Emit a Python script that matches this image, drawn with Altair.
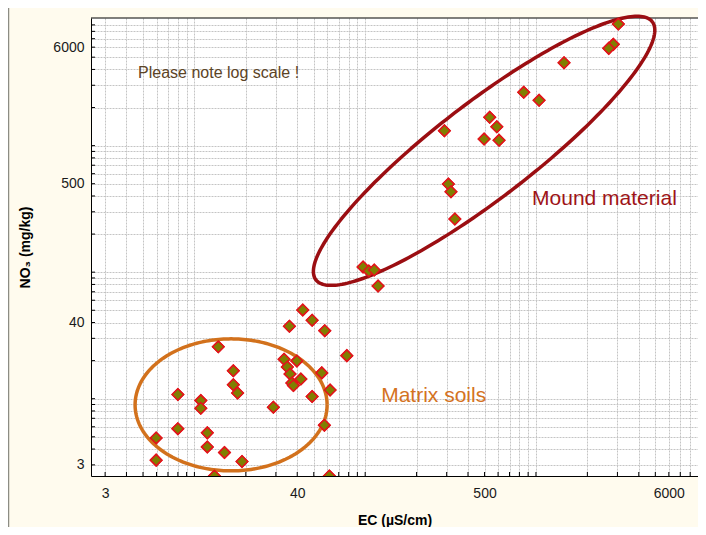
import altair as alt
import numpy as np
import pandas as pd

# ---- data (EC in uS/cm, NO3 in mg/kg) ----
ec = [3037, 2838, 2669, 1460, 848, 1043, 536, 590, 497, 608, 291, 307, 318, 335,
      97.2, 105, 113, 119,
      43.1, 48.9, 36.0, 58.0, 13.8, 78.1, 33.5, 39.8, 35.0, 16.9, 36.3, 55.7,
      42.0, 37.2, 38.0, 16.9, 17.9, 62.3, 8.0, 48.9, 10.9, 10.9, 29.0, 57.7,
      8.0, 5.97, 11.9, 11.9, 15.0, 19.0, 5.97, 13.1, 61.7]
no3 = [9131, 6312, 5870, 4517, 2637, 2279, 1673, 1410, 1127, 1101, 1311, 497, 432, 263,
       110, 102, 104, 77.8,
       50.3, 41.7, 37.4, 34.5, 25.7, 21.9, 20.5, 19.9, 17.8, 16.6, 15.7, 16.0,
       14.3, 13.3, 12.7, 12.9, 11.1, 11.7, 10.8, 10.4, 9.66, 8.4, 8.57, 6.18,
       5.8, 4.9, 5.37, 4.16, 3.75, 3.19, 3.27, 2.45, 2.45]

GRID = [3, 4, 5, 6, 7, 8, 9,
        10, 20, 30, 40, 50, 60, 70, 80, 90,
        100, 200, 300, 400, 500, 600, 700, 800, 900,
        1000, 2000, 3000, 4000, 5000, 6000, 7000, 8000, 9000]
LABELS = [3, 40, 500, 6000]

notes = ["Please note log scale !", "Mound material", "Matrix soils"]
note_x = [4.68, 949, 124]
note_y = [3768, 380, 10.5]
note_color = ["#5c4426", "#9e1418", "#d4731f"]
note_size = [16, 21, 21]

# ellipse annotations: centre (data), semi-axes (px), rotation (deg)
ell_names = ["mound", "matrix"]
ell_cx = [497, 16.4]
ell_cy = [910, 8.94]
ell_a = [212, 96]
ell_b = [48, 66]
ell_rot = [37.5, 0]
ell_color = ["#9b0e12", "#d2711c"]

W, H = 607, 458
XDOM = [2.48, 8890]
YDOM = [2.45, 10200]
FONT = "Liberation Sans"

pxdx = W / np.log10(XDOM[1] / XDOM[0])
pxdy = H / np.log10(YDOM[1] / YDOM[0])

xs = alt.Scale(type="log", domain=XDOM, nice=False)
ys = alt.Scale(type="log", domain=YDOM, nice=False)

label_expr = ("(datum.value == 3 || datum.value == 40 || datum.value == 500 || "
              "datum.value == 6000) ? format(datum.value, 'd') : ''")

GX = [g for g in GRID if g <= XDOM[1]]

x_axis = alt.Axis(values=GX, grid=True, gridColor="#c4c4c4",
                  gridDash=[2, 1], gridWidth=1, ticks=False, domain=True,
                  domainColor="black", domainWidth=1, labelExpr=label_expr,
                  labelOverlap=False, labelFlush=False, labelFont=FONT, labelFontSize=14,
                  labelColor="#1a1a1a", labelPadding=10, title="EC (µS/cm)",
                  titleFont=FONT, titleFontSize=14, titleFontWeight="bold",
                  titleColor="black", titleY=44, titleBaseline="middle")
y_axis = alt.Axis(values=GRID, grid=True, gridColor="#c4c4c4", gridDash=[2, 1], gridWidth=1,
                  ticks=False, domain=True, domainColor="black", domainWidth=1,
                  labelExpr=label_expr, labelOverlap=False, labelFlush=False,
                  labelFont=FONT, labelFontSize=14, labelColor="#1a1a1a", labelPadding=7,
                  title="NO₃ (mg/kg)", titleFont=FONT, titleFontSize=14,
                  titleFontWeight="bold", titleColor="black", titleX=-66, titleY=229,
                  titleBaseline="middle")

pts = alt.Chart(pd.DataFrame({"ec": ec, "no3": no3})).mark_point(
    shape="diamond", filled=True, fill="#7f7f00", fillOpacity=1, stroke="#e3141b",
    strokeWidth=1.5, size=130, opacity=1, clip=True
).encode(
    x=alt.X("ec:Q", scale=xs, axis=x_axis),
    y=alt.Y("no3:Q", scale=ys, axis=y_axis),
)

# ellipse outlines built in log space
t = np.linspace(0, 2 * np.pi, 241)
rows = []
for n, cx, cy, a, b, r in zip(ell_names, ell_cx, ell_cy, ell_a, ell_b, ell_rot):
    th = np.deg2rad(r)
    du = a * np.cos(t)
    dv = b * np.sin(t)
    dxp = du * np.cos(th) - dv * np.sin(th)
    dyp = du * np.sin(th) + dv * np.cos(th)
    lx = np.log10(cx) + dxp / pxdx
    ly = np.log10(cy) + dyp / pxdy
    for i in range(len(t)):
        rows.append({"name": n, "i": i, "ec": 10 ** lx[i], "no3": 10 ** ly[i]})
ell_df = pd.DataFrame(rows)

ells = alt.Chart(ell_df).mark_line(strokeWidth=3.5, clip=False).encode(
    x=alt.X("ec:Q", scale=xs, axis=x_axis),
    y=alt.Y("no3:Q", scale=ys, axis=y_axis),
    detail="name:N",
    order="i:Q",
    color=alt.Color("name:N", scale=alt.Scale(domain=ell_names, range=ell_color), legend=None),
)

texts = []
for s, tx, ty, c, fs in zip(notes, note_x, note_y, note_color, note_size):
    texts.append(
        alt.Chart(pd.DataFrame({"ec": [tx], "no3": [ty], "t": [s]})).mark_text(
            align="left", baseline="middle", font=FONT, fontSize=fs, color=c
        ).encode(
            x=alt.X("ec:Q", scale=xs, axis=x_axis),
            y=alt.Y("no3:Q", scale=ys, axis=y_axis),
            text="t:N",
        )
    )

xt = alt.Chart(pd.DataFrame({"ec": GX})).mark_rule(
    color="black", strokeWidth=1
).encode(x=alt.X("ec:Q", scale=xs, axis=x_axis), y=alt.value(H), y2=alt.value(H - 4))
yt = alt.Chart(pd.DataFrame({"no3": GRID})).mark_rule(
    color="black", strokeWidth=1
).encode(y=alt.Y("no3:Q", scale=ys, axis=y_axis), x=alt.value(0), x2=alt.value(4))

one = pd.DataFrame({"k": [0]})
top_line = alt.Chart(one).mark_rule(color="black", strokeWidth=1).encode(
    x=alt.value(0), x2=alt.value(W), y=alt.value(0))
frame_left = alt.Chart(one).mark_rule(color="#8c8c84", strokeWidth=1.5).encode(
    x=alt.value(-82.5), y=alt.value(-10), y2=alt.value(H + 51))

chart = alt.layer(pts, xt, yt, top_line, frame_left, ells, *texts, pts).properties(
    width=W, height=H,
    autosize=alt.AutoSizeParams(type="none"),
    padding={"left": 83, "top": 10, "right": 0, "bottom": 51},
    background="#fffbee",
).configure_view(stroke=None, fill="white")

chart.save("out.html", embed_options={"renderer": "svg", "actions": False})
